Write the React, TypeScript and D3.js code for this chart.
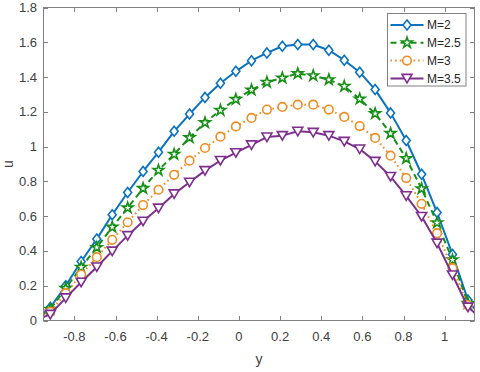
import React, { useRef, useEffect } from 'react';
import * as d3 from 'd3';

// channel coordinate y (x axis), one entry per sample; the outer two sit just past the axes and get clipped
const yPos = [-0.992, -0.917, -0.842, -0.767, -0.691, -0.616, -0.541, -0.466, -0.391, -0.315,
  -0.240, -0.165, -0.090, -0.015, 0.061, 0.136, 0.211, 0.286, 0.361, 0.437,
  0.512, 0.587, 0.662, 0.737, 0.813, 0.888, 0.963, 1.038, 1.113, 1.188];

// velocity u for each M
const uM2 = [0, 0.075, 0.20, 0.339, 0.468, 0.608, 0.736, 0.857, 0.968, 1.088,
  1.187, 1.283, 1.364, 1.433, 1.494, 1.539, 1.577, 1.587, 1.587, 1.554,
  1.497, 1.428, 1.328, 1.194, 1.035, 0.841, 0.621, 0.38, 0.118, 0];
const uM25 = [0, 0.065, 0.185, 0.306, 0.42, 0.537, 0.648, 0.76, 0.864, 0.956,
  1.052, 1.138, 1.209, 1.272, 1.326, 1.37, 1.395, 1.42, 1.408, 1.385,
  1.347, 1.274, 1.19, 1.076, 0.932, 0.758, 0.562, 0.349, 0.099, 0];
const uM3 = [0, 0.05, 0.157, 0.264, 0.364, 0.464, 0.565, 0.664, 0.752, 0.838,
  0.919, 0.992, 1.057, 1.116, 1.165, 1.213, 1.228, 1.241, 1.241, 1.213,
  1.171, 1.118, 1.05, 0.948, 0.819, 0.671, 0.502, 0.301, 0.089, 0];
const uM35 = [0, 0.035, 0.13, 0.22, 0.308, 0.399, 0.488, 0.571, 0.646, 0.728,
  0.795, 0.862, 0.92, 0.965, 1.01, 1.055, 1.063, 1.088, 1.082, 1.063,
  1.03, 0.986, 0.915, 0.828, 0.717, 0.598, 0.445, 0.262, 0.077, 0];

const seriesNames = ['M=2', 'M=2.5', 'M=3', 'M=3.5'];
const xTicks = [-0.8, -0.6, -0.4, -0.2, 0, 0.2, 0.4, 0.6, 0.8, 1];
const uTicks = [0, 0.2, 0.4, 0.6, 0.8, 1, 1.2, 1.4, 1.6, 1.8];

const W = 480;
const H = 372;
const FONT = '"Liberation Sans", Arial, Helvetica, sans-serif';

const styles = [
  { color: '#0b72c0', dash: null, marker: 'diamond' },
  { color: '#178f17', dash: '6 4', marker: 'star' },
  { color: '#ef8c22', dash: '1.6 3', marker: 'circle' },
  { color: '#7e2f8e', dash: null, marker: 'triangleDown' },
];

const markerPath = (kind: string): string => {
  if (kind === 'diamond') return 'M0,-5L4,0L0,5L-4,0Z';
  if (kind === 'triangleDown') return 'M0,4.5L-5,-4L5,-4Z';
  if (kind === 'circle') return d3.arc()({ innerRadius: 0, outerRadius: 4.3, startAngle: 0, endAngle: 2 * Math.PI } as any) || '';
  // pentagram
  const R = 5.6, r = R * 0.382;
  const pts: string[] = [];
  for (let i = 0; i < 10; i++) {
    const a = -Math.PI / 2 + (i * Math.PI) / 5;
    const rad = i % 2 === 0 ? R : r;
    pts.push(`${(rad * Math.cos(a)).toFixed(2)},${(rad * Math.sin(a)).toFixed(2)}`);
  }
  return 'M' + pts.join('L') + 'Z';
};

const fmt = (d: number) => String(+d.toFixed(1));

const App = () => {
  const svgRef = useRef<SVGSVGElement>(null);

  useEffect(() => {
    const svg = d3.select(svgRef.current);
    svg.selectAll('*').remove();

    const x = d3.scaleLinear().domain([-0.95, 1.145]).range([43.5, 474.5]);
    const y = d3.scaleLinear().domain([0, 1.8]).range([320.5, 7.5]);
    const [x0, x1] = x.range();
    const [yb, yt] = y.range();
    const axisColor = '#808080';
    const textColor = '#404040';

    svg.append('rect').attr('width', W).attr('height', H).attr('fill', 'white');

    svg.append('defs').append('clipPath').attr('id', 'plot-clip')
      .append('rect').attr('x', x0).attr('y', yt).attr('width', x1 - x0).attr('height', yb - yt);

    // ticks (inward, all four sides)
    const tl = 4.5;
    const tg = svg.append('g').attr('stroke', axisColor).attr('stroke-width', 1);
    xTicks.forEach(t => {
      const px = Math.round(x(t)) + 0.5;
      tg.append('line').attr('x1', px).attr('x2', px).attr('y1', yb).attr('y2', yb - tl);
      tg.append('line').attr('x1', px).attr('x2', px).attr('y1', yt).attr('y2', yt + tl);
    });
    uTicks.forEach(t => {
      const py = Math.round(y(t)) + 0.5;
      tg.append('line').attr('x1', x0).attr('x2', x0 + tl).attr('y1', py).attr('y2', py);
      tg.append('line').attr('x1', x1).attr('x2', x1 - tl).attr('y1', py).attr('y2', py);
    });

    // tick labels
    svg.append('g').selectAll('text').data(xTicks).enter().append('text')
      .attr('x', d => x(d)).attr('y', 341)
      .attr('text-anchor', 'middle')
      .style('font-family', FONT).style('font-size', '13px').style('fill', textColor)
      .text(d => fmt(d));
    svg.append('g').selectAll('text').data(uTicks).enter().append('text')
      .attr('x', 37).attr('y', d => y(d) + 4.5)
      .attr('text-anchor', 'end')
      .style('font-family', FONT).style('font-size', '13px').style('fill', textColor)
      .text(d => fmt(d));

    // axis labels
    svg.append('text')
      .attr('x', (x0 + x1) / 2).attr('y', 364)
      .attr('text-anchor', 'middle')
      .style('font-family', FONT).style('font-size', '14px').style('fill', textColor)
      .text('y');
    svg.append('text')
      .attr('transform', `translate(13,${(yb + yt) / 2}) rotate(-90)`)
      .attr('text-anchor', 'middle')
      .style('font-family', FONT).style('font-size', '14px').style('fill', textColor)
      .text('u');

    // series
    const allSeries = [uM2, uM25, uM3, uM35];
    const plot = svg.append('g').attr('clip-path', 'url(#plot-clip)');
    const line = d3.line<number>()
      .x((d, i) => x(yPos[i]))
      .y(d => y(d));

    allSeries.forEach((values, si) => {
      const st = styles[si];
      plot.append('path')
        .datum(values)
        .attr('d', line)
        .attr('fill', 'none')
        .attr('stroke', st.color)
        .attr('stroke-width', 2)
        .attr('stroke-dasharray', st.dash)
        .attr('stroke-linejoin', 'round');

      plot.selectAll(`.mk-${si}`)
        .data(values)
        .enter()
        .append('path')
        .attr('class', `mk-${si}`)
        .attr('transform', (d, i) => `translate(${x(yPos[i])},${y(d)})`)
        .attr('d', markerPath(st.marker))
        .attr('fill', 'white')
        .attr('stroke', st.color)
        .attr('stroke-width', 1.6)
        .attr('stroke-linejoin', 'miter');
    });

    // box
    svg.append('rect')
      .attr('x', x0).attr('y', yt).attr('width', x1 - x0).attr('height', yb - yt)
      .attr('fill', 'none').attr('stroke', axisColor).attr('stroke-width', 1);

    // legend
    const legend = svg.append('g').attr('transform', 'translate(387.5,13.5)');
    legend.append('rect')
      .attr('width', 78.5).attr('height', 72.5)
      .attr('fill', 'white').attr('stroke', axisColor).attr('stroke-width', 1);

    seriesNames.forEach((name, si) => {
      const st = styles[si];
      const row = legend.append('g').attr('transform', `translate(0,${11.5 + si * 17.8})`);
      row.append('line')
        .attr('x1', 3).attr('x2', 36).attr('y1', 0).attr('y2', 0)
        .attr('stroke', st.color).attr('stroke-width', 2)
        .attr('stroke-dasharray', st.dash);
      row.append('path')
        .attr('transform', 'translate(19.5,0)')
        .attr('d', markerPath(st.marker))
        .attr('fill', 'white').attr('stroke', st.color).attr('stroke-width', 1.6);
      row.append('text')
        .attr('x', 39.5).attr('y', 4.3)
        .style('font-family', FONT).style('font-size', '12px').style('fill', '#262626')
        .text(name);
    });
  }, []);

  return (
    <svg
      ref={svgRef}
      width={W}
      height={H}
      style={{ position: 'absolute', left: 0, top: 0, display: 'block' }}
    />
  );
};

export default App;
